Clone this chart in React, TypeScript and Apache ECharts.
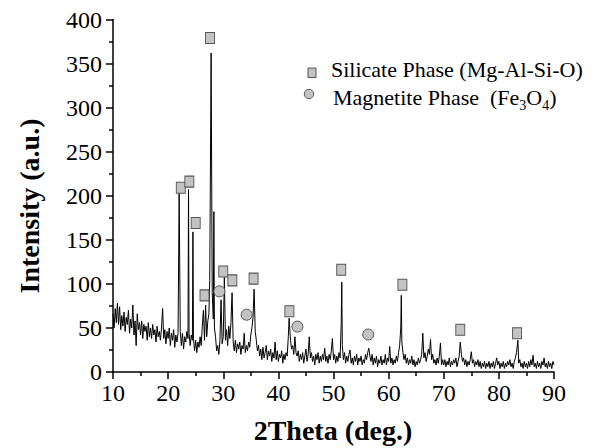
import React, { useEffect, useRef } from "react";
import * as echarts from "echarts";

const SERIF = "Liberation Serif";

// Diffraction pattern sampled every 0.2 deg (2Theta), intensity in a.u.
const X_START = 10;
const X_STEP = 0.2;
const base10to30 = [
  66, 50, 72, 56, 78, 54, 74, 48, 64, 52,
  68, 46, 62, 54, 70, 44, 60, 50, 76, 42,
  58, 30, 66, 48, 56, 42, 58, 38, 54, 46,
  52, 36, 56, 40, 50, 38, 54, 42, 48, 34,
  52, 40, 46, 36, 50, 72, 38, 48, 32, 46,
  38, 50, 30, 44, 36, 48, 28, 42, 34, 44,
  40, 46, 30, 44, 26, 40, 34, 46, 38, 44,
  30, 42, 36, 38, 24, 36, 22, 34, 28, 40,
  30, 52, 70, 36, 76, 40, 58, 66, 100, 200,
  90, 60, 50, 40, 24, 30, 20, 36, 44, 32,
];
const base30to50 = [
  40, 52, 36, 48, 30, 52, 38, 56, 40, 34,
  24, 36, 22, 32, 26, 34, 20, 30, 26, 44,
  22, 30, 24, 34, 28, 42, 50, 62, 70, 46,
  36, 24, 30, 18, 26, 14, 28, 16, 22, 30,
  14, 24, 18, 26, 12, 22, 16, 34, 14, 24,
  12, 20, 16, 24, 10, 20, 14, 22, 18, 40,
  48, 36, 26, 30, 20, 40, 22, 18, 24, 12,
  20, 14, 22, 10, 18, 26, 12, 20, 40, 16,
  22, 12, 18, 8, 20, 14, 22, 10, 18, 12,
  20, 14, 27, 12, 18, 10, 20, 14, 24, 38,
];
const base50to70 = [
  14, 20, 10, 18, 12, 22, 16, 55, 30, 14,
  22, 10, 18, 12, 20, 25, 10, 16, 8, 18,
  12, 20, 8, 16, 12, 18, 8, 14, 10, 20,
  14, 22, 27, 18, 12, 20, 8, 16, 10, 18,
  6, 14, 10, 18, 8, 14, 10, 20, 8, 16,
  12, 29, 10, 16, 8, 14, 10, 18, 12, 22,
  30, 50, 34, 22, 14, 20, 10, 16, 8, 14,
  10, 18, 8, 14, 6, 12, 8, 16, 10, 14,
  20, 44, 16, 22, 12, 18, 26, 20, 37, 14,
  20, 10, 14, 8, 16, 10, 18, 33, 8, 14,
];
const base70to90 = [
  8, 14, 6, 12, 8, 16, 6, 12, 8, 14,
  10, 16, 6, 12, 18, 34, 20, 12, 16, 8,
  14, 6, 12, 8, 14, 23, 10, 14, 6, 12,
  8, 14, 6, 12, 4, 10, 6, 12, 4, 10,
  6, 12, 4, 10, 6, 12, 4, 10, 16, 8,
  12, 4, 10, 6, 12, 4, 10, 6, 12, 8,
  14, 6, 10, 4, 12, 16, 22, 24, 10, 14,
  6, 10, 4, 12, 6, 10, 4, 12, 6, 14,
  8, 19, 6, 10, 4, 12, 6, 10, 4, 12,
  8, 16, 6, 10, 4, 12, 6, 10, 4, 12,
  8,
];

// Sharp reflections (apex positions and heights)
const peakX = [22.0, 23.7, 24.5, 27.55, 27.8, 28.3, 29.6, 30.2, 31.6, 35.6, 41.95, 51.5, 62.3, 83.45];
const peakY = [203, 207, 159, 104, 362, 182, 82, 108, 90, 94, 61, 102, 87, 36];

// Phase markers
const silicateX = [22.3, 23.85, 25.0, 27.6, 26.6, 30.0, 31.65, 35.5, 42.0, 51.4, 62.5, 73.0, 83.3];
const silicateY = [209, 216, 169, 379, 87, 114, 104, 106, 69, 116, 99, 48, 44];
const magnetiteX = [29.3, 34.25, 43.45, 56.3];
const magnetiteY = [91.5, 65, 51.5, 42.5];

// Tick labels
const xTickLabels = [10, 20, 30, 40, 50, 60, 70, 80, 90];
const yTickLabels = [0, 50, 100, 150, 200, 250, 300, 350, 400];
const xTicks = { min: 10, max: 90, interval: 10 };
const yTicks = { min: 0, max: 400, interval: 50 };

function buildPattern(): number[][] {
  const all = [...base10to30, ...base30to50, ...base50to70, ...base70to90];
  const pts: number[][] = [];
  all.forEach((v, i) => {
    const x = Math.round((X_START + X_STEP * i) * 100) / 100;
    if (peakX.some((p) => Math.abs(p - x) < 0.09)) return;
    pts.push([x, v]);
  });
  peakX.forEach((p, i) => pts.push([p, peakY[i]]));
  pts.sort((a, b) => a[0] - b[0]);
  return pts;
}

const markerStyle = { color: "#c3c3c3", borderColor: "#555555", borderWidth: 1, opacity: 1 };

function textEl(text: string, x: number, y: number, size: number, align: string, vAlign: string, extra: any = {}) {
  return {
    type: "text",
    x,
    y,
    ...extra,
    style: {
      text,
      fontFamily: SERIF,
      fontSize: size,
      fontWeight: extra.bold ? "bold" : "normal",
      fill: "#000",
      textAlign: align,
      textVerticalAlign: vAlign,
      align,
      verticalAlign: vAlign,
      ...(extra.rich ? { rich: extra.rich } : {}),
    },
  };
}

export default function App() {
  const ref = useRef<HTMLDivElement>(null);
  useEffect(() => {
    document.body.style.margin = "0";
    const chart = echarts.init(ref.current!, null, { renderer: "svg" });
    const option = {
      animation: false,
      backgroundColor: "#ffffff",
      grid: { left: 113, top: 19.5, width: 441, height: 352.5 },
      xAxis: {
        type: "value",
        ...xTicks,
        axisLine: { show: true, lineStyle: { color: "#000", width: 1.5 } },
        axisTick: { show: true, length: 7, lineStyle: { color: "#000", width: 1.5 } },
        minorTick: { show: true, splitNumber: 2, length: 4, lineStyle: { color: "#000", width: 1.5 } },
        splitLine: { show: false },
        axisLabel: { show: false },
      },
      yAxis: {
        type: "value",
        ...yTicks,
        axisLine: { show: true, lineStyle: { color: "#000", width: 1.5 } },
        axisTick: { show: true, length: 7, lineStyle: { color: "#000", width: 1.5 } },
        minorTick: { show: true, splitNumber: 2, length: 4, lineStyle: { color: "#000", width: 1.5 } },
        splitLine: { show: false },
        axisLabel: { show: false },
      },
      series: [
        {
          type: "line",
          data: buildPattern(),
          symbol: "none",
          showSymbol: false,
          lineStyle: { color: "#000", width: 1 },
          silent: true,
          z: 2,
        },
        {
          type: "scatter",
          data: silicateX.map((x, i) => [x, silicateY[i]]),
          symbol: "rect",
          symbolSize: [9, 11],
          itemStyle: markerStyle,
          z: 3,
        },
        {
          type: "scatter",
          data: magnetiteX.map((x, i) => [x, magnetiteY[i]]),
          symbol: "circle",
          symbolSize: 11,
          itemStyle: markerStyle,
          z: 3,
        },
      ],
    };
    chart.setOption(option as any);

    // Tick labels placed at the pixel positions given by the chart's own axes
    const labelEls: any[] = [];
    xTickLabels.forEach((v) => {
      const px = chart.convertToPixel({ xAxisIndex: 0 } as any, v) as unknown as number;
      if (typeof px === "number" && isFinite(px)) labelEls.push(textEl(String(v), px, 381, 24, "center", "top"));
    });
    yTickLabels.forEach((v) => {
      const py = chart.convertToPixel({ yAxisIndex: 0 } as any, v) as unknown as number;
      if (typeof py === "number" && isFinite(py)) labelEls.push(textEl(String(v), 102, py, 24, "right", "middle"));
    });

    const graphics: any[] = [
      textEl("2Theta (deg.)", 333, 430.5, 28, "center", "middle", { bold: true }),
      textEl("Intensity (a.u.)", 29, 206, 28, "center", "middle", { bold: true, rotation: Math.PI / 2 }),
      {
        type: "rect",
        shape: { x: 308, y: 68, width: 8, height: 9.5 },
        style: { fill: "#c3c3c3", stroke: "#555555", lineWidth: 1 },
      },
      {
        type: "circle",
        shape: { cx: 309, cy: 94, r: 4.7 },
        style: { fill: "#c3c3c3", stroke: "#555555", lineWidth: 1 },
      },
      textEl("Silicate Phase (Mg-Al-Si-O)", 331, 69.5, 22, "left", "middle"),
      textEl("Magnetite Phase  (Fe{s|3}O{s|4})", 333, 97.5, 22, "left", "middle", {
        rich: { s: { fontFamily: SERIF, fontSize: 14, fill: "#000", padding: [16, 0, 0, 0] } },
      }),
      ...labelEls,
    ].map((g) => {
      const { bold, rich, ...rest } = g as any;
      return rest;
    });

    chart.setOption({ graphic: graphics } as any);
    return () => chart.dispose();
  }, []);
  return <div ref={ref} style={{ width: 597, height: 448 }} />;
}
